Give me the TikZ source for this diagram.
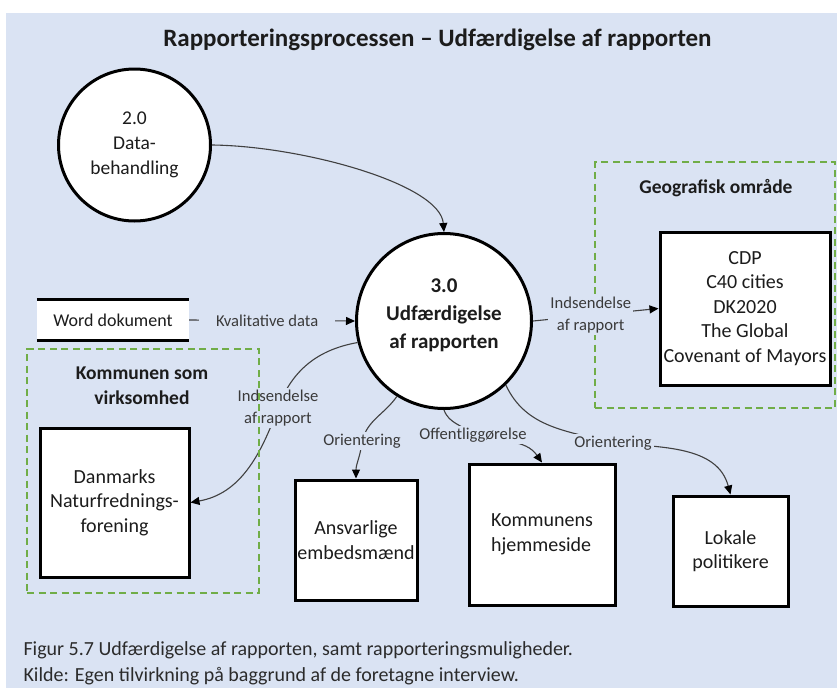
\documentclass[tikz,border=0pt]{standalone}
\usepackage{fontspec}
\setmainfont{Carlito}
\usetikzlibrary{arrows.meta}
\definecolor{bgblue}{HTML}{DAE3F3}
\definecolor{dashgreen}{HTML}{70AD47}
\definecolor{linegray}{HTML}{404040}
\definecolor{lblgray}{HTML}{3A3A3A}
\definecolor{txtdark}{HTML}{1C1C1C}
\definecolor{capgray}{HTML}{2B2B2B}

\begin{document}
\begin{tikzpicture}[x=1pt,y=1pt,
  proc/.style={circle, draw=black, line width=3pt, fill=white, inner sep=0pt, text=txtdark},
  entity/.style={rectangle, draw=black, line width=3pt, fill=white, align=center,
    inner sep=2pt, text=txtdark, font=\fontsize{20}{24.5}\selectfont},
  group/.style={draw=dashgreen, line width=2pt, dash pattern=on 7pt off 4.5pt, inner sep=0pt},
  flow/.style={draw=linegray, line width=1.1pt, -{Triangle[length=9pt,width=8pt,color=black]}},
  lbl/.style={fill=bgblue, text=lblgray, align=center, font=\fontsize{16.6}{22}\selectfont, inner sep=2pt},
  grouptitle/.style={font=\bfseries\fontsize{19.5}{25}\selectfont, align=center, text=txtdark},
]
\useasboundingbox (0,0) rectangle (837,-688);
\fill[white] (0,0) rectangle (837,-688);
\fill[bgblue] (6,-13) rectangle (837,-688);

% heading
\node[font=\bfseries\fontsize{25}{28}\selectfont, text=txtdark] (title) at (437.5,-40)
  {Rapporteringsprocessen – Udfærdigelse af rapporten};

% group for the geographic area
\node[group, minimum width=240pt, minimum height=246pt] (geo) at (715,-285) {};
\node[grouptitle] (geotitle) at (716,-188) {Geografisk område};

% processes
\node[proc, minimum size=152pt, font=\fontsize{19.5}{25}\selectfont, align=center] (c2)
  at (134.5,-145) {2.0\\Data-\\behandling};
\node[proc, minimum size=175pt] (c3) at (444,-321) {};
\node[font=\bfseries\fontsize{21}{28}\selectfont, align=center, text=txtdark] (c3text)
  at (444,-315) {3.0\\Udfærdigelse\\af rapporten};

% data store
\node[minimum width=152pt, minimum height=40pt, fill=white, inner sep=0pt, text=txtdark,
  font=\fontsize{18}{22}\selectfont] (word) at (113,-320) {Word dokument};
\draw[line width=3pt] (word.north west) -- (word.north east)
                      (word.south west) -- (word.south east);

% external entities
\node[entity, minimum width=170pt, minimum height=153pt] (cdp) at (745,-308.5)
  {CDP\\C40 cities\\DK2020\\The Global\\Covenant of Mayors};
\node[entity, minimum width=149pt, minimum height=149pt] (dn) at (114.5,-502.5)
  {Danmarks\\Naturfrednings-\\forening};
\node[entity, minimum width=122pt, minimum height=120pt] (ans) at (356,-540)
  {Ansvarlige\\embedsmænd};
\node[entity, minimum width=146pt, minimum height=141pt, align=left] (kom) at (542,-534.5)
  {Kommunens\\hjemmeside};
\node[entity, minimum width=115pt, minimum height=110pt] (lok) at (730.5,-551)
  {Lokale\\politikere};

% label positions on the curved flows
\coordinate (ind2pos) at (278,-408);
\coordinate (or1pos) at (362,-441);
\coordinate (offpos) at (473,-435);
\coordinate (or2pos) at (613,-443);

% flows
\draw[flow] (c2.east) .. controls +(90,-1) and +(-4,48) .. (c3.north);
\draw[flow] (word.east) -- (c3.west)
  node[lbl, pos=0.47, inner xsep=17pt] (kvl) {Kvalitative data};
\draw[flow] (c3.east) -- (cdp.west)
  node[lbl, pos=0.46] (ind1) {Indsendelse\\af rapport};
\draw[flow] (c3.194) to[out=190,in=70] (ind2pos) to[out=250,in=10] (dn.east);
\draw[flow] (c3.238) to[out=235,in=75] (or1pos) to[out=265,in=90] (ans.north);
\draw[flow] (c3.270) to[out=-70,in=135] (offpos) to[out=-15,in=125] (kom.north);
\draw[flow] (c3.314) to[out=-65,in=165] (or2pos) to[out=-5,in=105] (lok.north);

% flow labels
\node[lbl] (ind2) at (ind2pos) {Indsendelse\\af rapport};
\node[lbl] (or1) at (or1pos) {Orientering};
\node[lbl] (off) at (offpos) {Offentliggørelse};
\node[lbl] (or2) at (or2pos) {Orientering};

% group for the municipality as an organisation
\node[group, minimum width=232pt, minimum height=244pt] (kmv) at (143,-471) {};
\node[grouptitle] (kmvtitle) at (142,-385.5) {Kommunen som\\virksomhed};

% caption
\node[anchor=west, align=left, text=capgray, font=\fontsize{20}{26}\selectfont] (cap)
  at (20,-663) {Figur 5.7 Udfærdigelse af rapporten, samt rapporteringsmuligheder.\\Kilde: Egen tilvirkning på baggrund af de foretagne interview.};
\end{tikzpicture}
\end{document}
